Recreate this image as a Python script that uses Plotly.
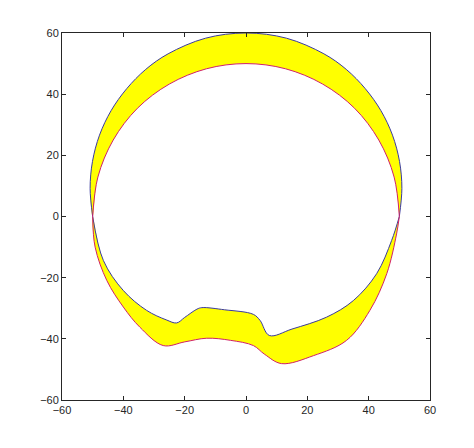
import plotly.graph_objects as go

# upper half: outer (blue) arc and inner (red) semicircle, left to right
blue_top_x = [-50, -50.83, -50.06, -47.77, -44.0, -38.9, -32.7, -25.4, -13.2, 0,
              13.2, 25.4, 32.7, 38.9, 44.0, 47.77, 50.06, 50.83, 50]
blue_top_y = [0, 9.17, 18.0, 26.6, 34.6, 41.8, 48.1, 53.2, 58.3, 60,
              58.3, 53.2, 48.1, 41.8, 34.6, 26.6, 18.0, 9.17, 0]
red_top_x = [-50, -48.3, -43.3, -35.4, -25, -12.9, 0, 12.9, 25, 35.4, 43.3, 48.3, 50]
red_top_y = [0, 12.9, 25, 35.4, 43.3, 48.3, 50, 48.3, 43.3, 35.4, 25, 12.9, 0]

# lower half: inner (blue) and outer (red) wavy curves, left to right
blue_bot_x = [-50, -46.5, -40, -32.4, -26, -22.6, -20, -16, -14.4, -7, 2.4, 4.6, 7.6, 15, 26.3, 35, 42.6, 47.5, 50]
blue_bot_y = [0, -14.4, -24.2, -30.7, -33.8, -34.8, -33, -30.3, -29.8, -30.5, -32, -34, -38.9, -36.8, -32.9, -27.5, -18.7, -7.8, 0]
red_bot_x = [-50, -49.2, -45.4, -40, -34.6, -27, -20, -12.8, -5, 2.4, 6, 11.6, 22, 32.8, 40.4, 45.9, 49.1, 50]
red_bot_y = [0, -10, -20.9, -29.6, -36.2, -42.2, -41, -39.8, -40.5, -42.2, -45, -48.1, -45.5, -40.5, -30.7, -18.7, -5.7, 0]

fig = go.Figure()

# yellow crescents
fig.add_trace(go.Scatter(x=blue_top_x + red_top_x[::-1], y=blue_top_y + red_top_y[::-1],
                         fill="toself", fillcolor="#ffff00", mode="lines",
                         line=dict(width=0, shape="spline", smoothing=1), hoverinfo="skip"))
fig.add_trace(go.Scatter(x=red_bot_x + blue_bot_x[::-1], y=red_bot_y + blue_bot_y[::-1],
                         fill="toself", fillcolor="#ffff00", mode="lines",
                         line=dict(width=0, shape="spline", smoothing=1), hoverinfo="skip"))

# outlines
for xs, ys, c in [(blue_top_x, blue_top_y, "#3a3aa0"), (blue_bot_x, blue_bot_y, "#3a3aa0"),
                  (red_top_x, red_top_y, "#d0206a"), (red_bot_x, red_bot_y, "#d0206a")]:
    fig.add_trace(go.Scatter(x=xs, y=ys, mode="lines",
                             line=dict(color=c, width=1, shape="spline", smoothing=1)))

axis = dict(range=[-60, 60], tickvals=[-60, -40, -20, 0, 20, 40, 60], ticks="inside",
            ticklen=4, showgrid=False, zeroline=False, showline=True, mirror="ticks",
            linecolor="#262626", linewidth=1, tickcolor="#262626",
            tickfont=dict(family="Liberation Sans", size=11, color="#262626"))
fig.update_layout(width=474, height=448, margin=dict(l=54, r=52, t=25, b=56),
                  showlegend=False, plot_bgcolor="white", paper_bgcolor="white",
                  xaxis=axis, yaxis=axis)
fig.write_html("out.html")
